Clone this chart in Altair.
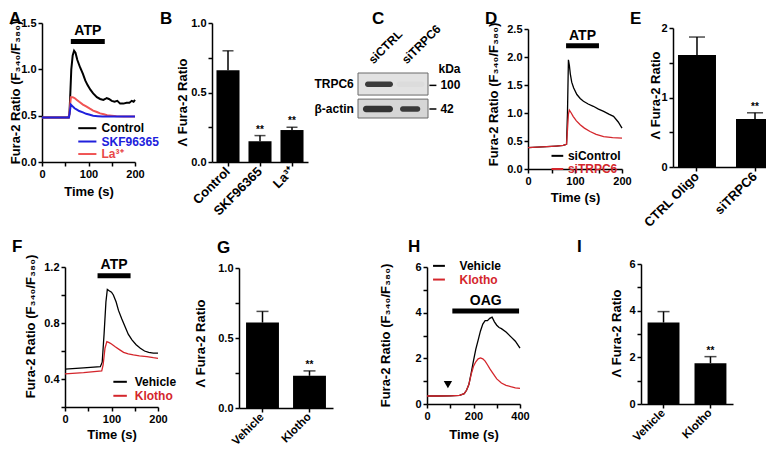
import altair as alt
import pandas as pd

# ---------------- data ----------------
# Panel A: Fura-2 ratio traces
A_time_control = [0, 20, 40, 57, 59, 61, 63, 66, 69, 72, 76, 82, 88, 93, 98, 104, 110, 118, 125, 132, 136, 139, 144, 150, 156, 162, 168, 175, 182, 188, 193, 197, 200]
A_control = [0.48, 0.48, 0.48, 0.48, 0.52, 0.75, 1.0, 1.15, 1.2, 1.18, 1.1, 1.02, 0.95, 0.88, 0.83, 0.78, 0.74, 0.70, 0.68, 0.67, 0.68, 0.69, 0.68, 0.66, 0.65, 0.66, 0.63, 0.63, 0.64, 0.64, 0.66, 0.65, 0.67]
A_time_skf = [0, 30, 58, 60, 62, 66, 70, 75, 80, 88, 95, 103, 110, 120, 130, 145, 160, 180, 200]
A_skf = [0.48, 0.48, 0.48, 0.55, 0.62, 0.60, 0.58, 0.565, 0.55, 0.535, 0.52, 0.51, 0.50, 0.495, 0.49, 0.49, 0.49, 0.49, 0.49]
A_time_la = [0, 30, 58, 60, 62, 66, 70, 75, 80, 88, 95, 103, 110, 118, 125, 133, 140, 150, 160, 175, 200]
A_la = [0.48, 0.48, 0.48, 0.58, 0.70, 0.70, 0.69, 0.67, 0.65, 0.62, 0.60, 0.575, 0.555, 0.54, 0.525, 0.515, 0.505, 0.50, 0.495, 0.49, 0.49]
A_atp = [62, 135]

# Panel B
B_groups = ["Control", "SKF96365", "La³⁺"]
B_mean = [0.66, 0.15, 0.23]
B_sem = [0.14, 0.04, 0.02]
B_sig = ["", "**", "**"]

# Panel C (western blot)
C_lanes = ["siCTRL", "siTRPC6"]
C_rows = ["TRPC6", "β-actin"]
C_intensity_trpc6 = [0.95, 0.03]
C_intensity_actin = [1.0, 0.95]
C_kda = ["100", "42"]

# Panel D
D_time_ctrl = [0, 20, 40, 60, 75, 82, 84, 86, 88, 90, 93, 97, 104, 111, 118, 128, 139, 150, 161, 172, 182, 192, 200]
D_ctrl = [0.38, 0.39, 0.40, 0.41, 0.42, 0.44, 1.0, 1.95, 1.85, 1.7, 1.55, 1.45, 1.33, 1.26, 1.21, 1.16, 1.12, 1.07, 1.03, 0.98, 0.94, 0.84, 0.73]
D_time_si = [0, 20, 40, 60, 75, 82, 84, 86, 88, 92, 96, 103, 111, 120, 132, 145, 161, 180, 200]
D_si = [0.38, 0.39, 0.40, 0.41, 0.42, 0.44, 0.7, 0.98, 1.05, 1.0, 0.94, 0.86, 0.79, 0.73, 0.67, 0.62, 0.58, 0.56, 0.55]
D_atp = [81, 151]

# Panel E
E_groups = ["CTRL Oligo", "siTRPC6"]
E_mean = [1.61, 0.69]
E_sem = [0.26, 0.09]
E_sig = ["", "**"]

# Panel F
F_time_veh = [0, 40, 76, 80, 84, 88, 91, 95, 100, 104, 110, 115, 122, 129, 136, 144, 153, 162, 171, 180, 190, 200]
F_veh = [0.47, 0.48, 0.488, 0.52, 0.72, 0.95, 1.04, 1.03, 1.02, 1.0, 0.95, 0.89, 0.83, 0.775, 0.72, 0.68, 0.645, 0.62, 0.60, 0.59, 0.585, 0.585]
F_time_klo = [0, 40, 79, 82, 86, 90, 95, 100, 108, 117, 126, 136, 147, 160, 176, 190, 200]
F_klo = [0.436, 0.445, 0.457, 0.5, 0.62, 0.667, 0.66, 0.65, 0.63, 0.61, 0.59, 0.58, 0.572, 0.565, 0.56, 0.552, 0.548]
F_atp = [70, 141]

# Panel G
G_groups = ["Vehicle", "Klotho"]
G_mean = [0.61, 0.23]
G_sem = [0.08, 0.035]
G_sig = ["", "**"]

# Panel H
H_time_veh = [0, 50, 100, 140, 160, 170, 180, 190, 200, 210, 220, 230, 240, 250, 260, 270, 280, 290, 300, 310, 320, 340, 360, 380, 400]
H_veh = [0.35, 0.35, 0.36, 0.38, 0.45, 0.6, 0.85, 1.35, 1.9, 2.4, 2.8, 3.2, 3.5, 3.65, 3.65, 3.75, 3.8, 3.6, 3.45, 3.35, 3.3, 3.15, 2.95, 2.75, 2.45]
H_time_klo = [0, 50, 100, 140, 160, 170, 180, 190, 200, 210, 220, 230, 240, 250, 260, 270, 280, 300, 320, 340, 360, 380, 400]
H_klo = [0.35, 0.35, 0.36, 0.38, 0.45, 0.6, 0.85, 1.3, 1.65, 1.85, 1.98, 2.02, 1.98, 1.88, 1.72, 1.55, 1.4, 1.1, 0.92, 0.82, 0.76, 0.71, 0.68]
H_oag = [109, 396]
H_arrow = [90, 0.85]

# Panel I
I_groups = ["Vehicle", "Klotho"]
I_mean = [3.49, 1.75]
I_sem = [0.47, 0.28]
I_sig = ["", "**"]

# ---------------- layout / style ----------------
FONT = "Liberation Sans"
W, H, M = 758, 440, 8
BLACK = "#000000"
RED = "#d4262c"
A_RED = "#f05454"
A_BLUE = "#2020dc"
FURA = "Fura-2 Ratio (F₃₄₀/F₃₈₀)"
DELTA = "Λ Fura-2 Ratio"


def px(v):
    return v - M


def py(v):
    return v - M


def qscale(dom, p0, p1, horizontal):
    f = px if horizontal else py
    return alt.Scale(domain=dom, range=[f(p0), f(p1)], nice=False, zero=False)


def bottom_axis(axis_y, **kw):
    # negative offset moves the axis from the bottom edge up to its panel
    return alt.Axis(orient="bottom", offset=-(H - py(axis_y)), labelFlush=False,
                    labelOverlap=False, grid=False, **kw)


def left_axis(axis_x, **kw):
    return alt.Axis(orient="left", offset=-px(axis_x), labelFlush=False,
                    labelOverlap=False, grid=False, **kw)


def time_axis(axis_y, xpage, vals, every, title_y):
    return bottom_axis(axis_y, values=vals,
                       labelExpr=f"datum.value % {every} == 0 ? datum.label : ''",
                       title="Time (s)", titleX=px((xpage[0] + xpage[1]) / 2),
                       titleY=title_y - axis_y, titleAlign="center", titleBaseline="middle")


def value_axis(axis_x, vals, fmt, labexpr, title, tx, ty):
    kw = dict(values=vals, format=fmt, title=title, titleX=tx - axis_x, titleY=py(ty),
              titleAngle=270, titleAlign="center", titleBaseline="middle")
    if labexpr:
        kw["labelExpr"] = labexpr
    return left_axis(axis_x, **kw)


def trace(times, vals, color, width, xs, ys, xaxis=None, yaxis=None):
    df = pd.DataFrame({"t": times, "v": vals})
    return alt.Chart(df).mark_line(color=color, strokeWidth=width).encode(
        x=alt.X("t:Q", scale=xs, axis=xaxis), y=alt.Y("v:Q", scale=ys, axis=yaxis))


def stimulus(span, bar_v, label, text_v, xs, ys):
    df = pd.DataFrame({"t0": [span[0]], "t1": [span[1]], "v": [bar_v],
                       "tm": [(span[0] + span[1]) / 2], "vt": [text_v], "lab": [label]})
    bar = alt.Chart(df).mark_rule(strokeWidth=5, color=BLACK).encode(
        x=alt.X("t0:Q", scale=xs, axis=None), x2="t1:Q", y=alt.Y("v:Q", scale=ys, axis=None))
    txt = alt.Chart(df).mark_text(font=FONT, fontSize=14, fontWeight="bold", baseline="middle").encode(
        x=alt.X("tm:Q", scale=xs, axis=None), y=alt.Y("vt:Q", scale=ys, axis=None), text="lab:N")
    return [bar, txt]


def legend(names, colors, textcolors, t0, t1, tt, vs, xs, ys, size=12, sw=2):
    n = len(names)
    df = pd.DataFrame({"name": names, "col": colors, "tcol": textcolors,
                       "t0": [t0] * n, "t1": [t1] * n, "tt": [tt] * n, "v": vs})
    seg = alt.Chart(df).mark_rule(strokeWidth=sw).encode(
        x=alt.X("t0:Q", scale=xs, axis=None), x2="t1:Q", y=alt.Y("v:Q", scale=ys, axis=None),
        color=alt.Color("col:N", scale=None))
    txt = alt.Chart(df).mark_text(font=FONT, fontSize=size, fontWeight="bold", align="left",
                                  baseline="middle").encode(
        x=alt.X("tt:Q", scale=xs, axis=None), y=alt.Y("v:Q", scale=ys, axis=None), text="name:N",
        color=alt.Color("tcol:N", scale=None))
    return [seg, txt]


def letters(labels, ts, vs, xs, ys):
    df = pd.DataFrame({"lab": labels, "t": ts, "v": vs})
    return alt.Chart(df).mark_text(font=FONT, fontSize=17, fontWeight="bold", align="left",
                                   baseline="alphabetic").encode(
        x=alt.X("t:Q", scale=xs, axis=None), y=alt.Y("v:Q", scale=ys, axis=None), text="lab:N")


def bar_panel(groups, means, sems, sigs, xpage, pin, pout, ydom, ypage, yaxis, capw, lsize=13):
    df = pd.DataFrame({"g": groups, "m": means, "top": [a + b for a, b in zip(means, sems)], "sig": sigs})
    xs = alt.Scale(type="band", domain=groups, range=[px(xpage[0]), px(xpage[1])],
                   paddingInner=pin, paddingOuter=pout)
    ys = qscale(ydom, ypage[0], ypage[1], False)
    xaxis = bottom_axis(ypage[0], title="", labelAngle=315, labelAlign="right",
                        labelBaseline="middle", labelFontSize=lsize, labelPadding=3)
    base = alt.Chart(df)
    bars = base.mark_bar(color=BLACK).encode(
        x=alt.X("g:N", scale=xs, axis=xaxis, sort=groups), y=alt.Y("m:Q", scale=ys, axis=yaxis))
    err = base.mark_rule(color=BLACK, strokeWidth=1.5).encode(
        x=alt.X("g:N", scale=xs, axis=None, sort=groups), y=alt.Y("m:Q", scale=ys, axis=None), y2="top:Q")
    cap = base.mark_tick(color=BLACK, orient="horizontal", size=capw, thickness=1.5).encode(
        x=alt.X("g:N", scale=xs, axis=None, sort=groups), y=alt.Y("top:Q", scale=ys, axis=None))
    star = base.mark_text(font=FONT, fontSize=10, fontWeight="bold", baseline="bottom", dy=-1).encode(
        x=alt.X("g:N", scale=xs, axis=None, sort=groups), y=alt.Y("top:Q", scale=ys, axis=None), text="sig:N")
    return [bars, err, cap, star]


# ---------------- Panel A ----------------
xA = qscale([0, 200], 42, 135, True)
yA = qscale([0, 1.5], 162, 23, False)
axA_x = time_axis(162, (42, 135), [0, 50, 100, 150, 200], 100, 191)
axA_y = value_axis(42, [0, 0.5, 1.0, 1.5], ".1f", None, FURA, 15, 92)
pA = [
    trace(A_time_control, A_control, BLACK, 2, xA, yA, axA_x, axA_y),
    trace(A_time_la, A_la, A_RED, 2, xA, yA),
    trace(A_time_skf, A_skf, A_BLUE, 2, xA, yA),
    *stimulus(A_atp, 1.30, "ATP", 1.415, xA, yA),
    *legend(["Control", "SKF96365", "La³⁺"], [BLACK, A_BLUE, A_RED], [BLACK, A_BLUE, "#e84848"],
            78, 117, 128, [0.365, 0.221, 0.086], xA, yA),
    letters(["A", "B"], [-71, 253.8], [1.489, 1.489], xA, yA),
]

# ---------------- Panel B ----------------
axB_y = value_axis(212, [0, 0.25, 0.5, 0.75, 1.0], ".1f",
                   "round(datum.value*4) % 2 == 0 ? datum.label : ''", DELTA, 182, 102)
pB = bar_panel(B_groups, B_mean, B_sem, B_sig, (212, 308), 0.28, 0.14, [0, 1], (162, 23), axB_y, 11)

# ---------------- Panel C (blot) ----------------
xC = qscale([0, 2], 358, 428, True)
yC = qscale([0, 2], 73, 118, False)
C_box = pd.DataFrame({"x0": [0, 0], "x1": [2, 2], "y0": [0, 1.16], "y1": [0.98, 2.0],
                      "fill": ["#e2e2e2", "#d6d6d6"]})
C_bands = pd.DataFrame({
    "x0": [0.2, 1.1, 0.14, 1.2], "x1": [1.0, 1.9, 1.0, 1.78],
    "y0": [0.38, 0.38, 1.46, 1.48], "y1": [0.62, 0.62, 1.74, 1.72],
    "op": C_intensity_trpc6 + C_intensity_actin})
C_rowlab = pd.DataFrame({"x": [-0.12, -0.12], "y": [0.49, 1.58], "lab": C_rows})
C_kdatick = pd.DataFrame({"x0": [2.04, 2.04], "x1": [2.24, 2.24], "y": [0.55, 1.6], "lab": C_kda})
C_lanelab = pd.DataFrame({"x": [0.5, 1.45], "y": [-0.28, -0.28], "lab": C_lanes})
C_unit = pd.DataFrame({"x": [2.3], "y": [-0.2], "lab": ["kDa"]})


def cx(f):
    return alt.X(f"{f}:Q", scale=xC, axis=None)


def cy(f):
    return alt.Y(f"{f}:Q", scale=yC, axis=None)


pC = [
    alt.Chart(C_box).mark_rect(stroke="#6a6a6a", strokeWidth=1).encode(
        x=cx("x0"), x2="x1:Q", y=cy("y0"), y2="y1:Q", fill=alt.Color("fill:N", scale=None)),
    alt.Chart(C_bands).mark_rect(color="#333333", cornerRadius=4).encode(
        x=cx("x0"), x2="x1:Q", y=cy("y0"), y2="y1:Q", opacity=alt.Opacity("op:Q", scale=None)),
    alt.Chart(C_rowlab).mark_text(font=FONT, fontSize=12, fontWeight="bold", align="right",
                                  baseline="middle").encode(x=cx("x"), y=cy("y"), text="lab:N"),
    alt.Chart(C_kdatick).mark_rule(color=BLACK, strokeWidth=1.5).encode(x=cx("x0"), x2="x1:Q", y=cy("y")),
    alt.Chart(C_kdatick).mark_text(font=FONT, fontSize=12, fontWeight="bold", align="left",
                                   baseline="middle", dx=4).encode(x=cx("x1"), y=cy("y"), text="lab:N"),
    alt.Chart(C_lanelab).mark_text(font=FONT, fontSize=12, fontWeight="bold", align="left",
                                   baseline="bottom", angle=315).encode(x=cx("x"), y=cy("y"), text="lab:N"),
    alt.Chart(C_unit).mark_text(font=FONT, fontSize=12, fontWeight="bold", align="left",
                                baseline="middle").encode(x=cx("x"), y=cy("y"), text="lab:N"),
]

# ---------------- Panel D ----------------
xD = qscale([0, 200], 528, 622, True)
yD = qscale([0, 2.5], 169, 29, False)
axD_x = time_axis(169, (528, 622), [0, 50, 100, 150, 200], 100, 197)
axD_y = value_axis(528, [0, 0.5, 1.0, 1.5, 2.0, 2.5], ".1f", None, FURA, 493, 94)
pD = [
    trace(D_time_ctrl, D_ctrl, BLACK, 1.3, xD, yD, axD_x, axD_y),
    trace(D_time_si, D_si, RED, 1.3, xD, yD),
    *stimulus(D_atp, 2.2, "ATP", 2.37, xD, yD),
    *legend(["siControl", "siTRPC6"], [BLACK, RED], [BLACK, RED], 50, 75, 85, [0.235, 0.0], xD, yD),
    letters(["C", "D", "E"], [-332, -91.5, 217], [2.589, 2.589, 2.589], xD, yD),
]

# ---------------- Panel E ----------------
axE_y = value_axis(673, [0, 0.5, 1.0, 1.5, 2.0], ".0f",
                   "round(datum.value*2) % 2 == 0 ? datum.label : ''", DELTA, 655, 95)
pE = bar_panel(E_groups, E_mean, E_sem, E_sig, (673, 779), 0.345, 0.086, [0, 2], (167, 28), axE_y, 16)

# ---------------- Panel F ----------------
xF = qscale([0, 200], 65, 158, True)
yF = qscale([0.2, 1.2], 407, 267, False)
axF_x = time_axis(407, (65, 158), [0, 50, 100, 150, 200], 100, 434)
axF_y = value_axis(65, [0.2, 0.4, 0.6, 0.8, 1.0, 1.2], ".1f",
                   "round(datum.value*10) % 4 == 0 ? datum.label : ''", FURA, 30, 326)
pF = [
    trace(F_time_veh, F_veh, BLACK, 1.3, xF, yF, axF_x, axF_y),
    trace(F_time_klo, F_klo, RED, 1.3, xF, yF),
    *stimulus(F_atp, 1.138, "ATP", 1.214, xF, yF),
    *legend(["Vehicle", "Klotho"], [BLACK, RED], [BLACK, RED], 104, 133, 150, [0.38, 0.28], xF, yF),
    letters(["F", "G"], [-114, 327], [1.307, 1.30], xF, yF),
]

# ---------------- Panel G ----------------
axG_y = value_axis(239, [0, 0.25, 0.5, 0.75, 1.0], ".1f",
                   "round(datum.value*4) % 2 == 0 ? datum.label : ''", DELTA, 200, 343)
pG = bar_panel(G_groups, G_mean, G_sem, G_sig, (239, 333), 0.3, 0.15, [0, 1], (408, 268), axG_y, 12, 11.5)

# ---------------- Panel H ----------------
xH = qscale([0, 400], 427, 520, True)
yH = qscale([0, 6], 404, 267, False)
axH_x = time_axis(404, (427, 520), [0, 100, 200, 300, 400], 200, 434)
axH_y = value_axis(427, [0, 1, 2, 3, 4, 5, 6], ".0f",
                   "datum.value % 2 == 0 ? datum.label : ''", FURA, 385, 335)
arrow_df = pd.DataFrame({"t": [H_arrow[0]], "v": [H_arrow[1]]})
pH = [
    trace(H_time_veh, H_veh, BLACK, 1.3, xH, yH, axH_x, axH_y),
    trace(H_time_klo, H_klo, RED, 1.3, xH, yH),
    *stimulus(H_oag, 4.07, "OAG", 4.52, xH, yH),
    *legend(["Vehicle", "Klotho"], [BLACK, RED], [BLACK, RED], 26, 77, 140, [6.05, 5.45], xH, yH),
    alt.Chart(arrow_df).mark_point(shape="triangle-down", filled=True, size=70, color=BLACK, opacity=1).encode(
        x=alt.X("t:Q", scale=xH, axis=None), y=alt.Y("v:Q", scale=yH, axis=None)),
    letters(["H", "I"], [-81.7, 645], [6.66, 6.66], xH, yH),
]

# ---------------- Panel I ----------------
axI_y = value_axis(641, [0, 1, 2, 3, 4, 5, 6], ".0f",
                   "datum.value % 2 == 0 ? datum.label : ''", DELTA, 616, 333)
pI = bar_panel(I_groups, I_mean, I_sem, I_sig, (641, 733), 0.32, 0.14, [0, 6], (404, 264), axI_y, 12, 11.5)

chart = alt.layer(*pA, *pB, *pC, *pD, *pE, *pF, *pG, *pH, *pI).resolve_scale(
    x="independent", y="independent"
).resolve_axis(
    x="independent", y="independent"
).properties(
    width=W, height=H, autosize=alt.AutoSizeParams(type="none"), padding=0
).configure_view(stroke=None).configure_axis(
    domainColor=BLACK, tickColor=BLACK, labelColor=BLACK, titleColor=BLACK,
    labelFont=FONT, titleFont=FONT, labelFontWeight="bold", titleFontWeight="bold",
    labelFontSize=11, titleFontSize=13, domainWidth=1.5, tickWidth=1.5, tickSize=4, labelPadding=2,
)

chart.save("out.html", embed_options={"renderer": "svg", "actions": False})
